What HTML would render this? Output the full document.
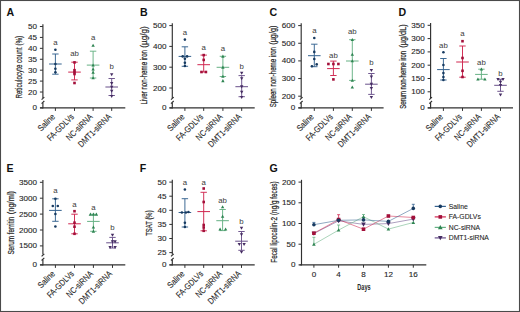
<!DOCTYPE html><html><head><meta charset="utf-8"><style>html,body{margin:0;padding:0;background:#fff}svg{display:block}</style></head><body>
<svg width="520" height="312" viewBox="0 0 520 312" font-family='"Liberation Sans", sans-serif'>
<rect x="0" y="0" width="520" height="312" fill="#fff"/>
<text x="6.50" y="15.60" font-size="10.6" text-anchor="start" fill="#111" font-weight="bold" >A</text>
<text x="22.40" y="98.60" font-size="8.4" text-anchor="start" fill="#262626" textLength="51.00" lengthAdjust="spacingAndGlyphs" transform="rotate(-90 22.40 98.60)" stroke="#262626" stroke-width="0.22">Reticulocyte count</text>
<text x="22.40" y="45.60" font-size="8.4" text-anchor="start" fill="#262626" textLength="9.80" lengthAdjust="spacingAndGlyphs" transform="rotate(-90 22.40 45.60)" stroke="#262626" stroke-width="0.22">(%)</text>
<line x1="42.90" y1="24.20" x2="42.90" y2="97.90" stroke="#303030" stroke-width="1.15"/>
<line x1="42.90" y1="103.00" x2="42.90" y2="108.40" stroke="#303030" stroke-width="1.15"/>
<line x1="44.30" y1="97.10" x2="41.60" y2="99.70" stroke="#303030" stroke-width="1.15"/>
<line x1="44.30" y1="101.00" x2="41.60" y2="103.70" stroke="#303030" stroke-width="1.15"/>
<line x1="39.90" y1="26.50" x2="42.90" y2="26.50" stroke="#303030" stroke-width="1.0"/>
<text x="37.00" y="29.00" font-size="6.8" text-anchor="end" fill="#262626" textLength="9.00" lengthAdjust="spacingAndGlyphs" stroke="#262626" stroke-width="0.1">50</text>
<line x1="39.90" y1="37.42" x2="42.90" y2="37.42" stroke="#303030" stroke-width="1.0"/>
<text x="37.00" y="39.92" font-size="6.8" text-anchor="end" fill="#262626" textLength="9.00" lengthAdjust="spacingAndGlyphs" stroke="#262626" stroke-width="0.1">45</text>
<line x1="39.90" y1="48.34" x2="42.90" y2="48.34" stroke="#303030" stroke-width="1.0"/>
<text x="37.00" y="50.84" font-size="6.8" text-anchor="end" fill="#262626" textLength="9.00" lengthAdjust="spacingAndGlyphs" stroke="#262626" stroke-width="0.1">40</text>
<line x1="39.90" y1="59.26" x2="42.90" y2="59.26" stroke="#303030" stroke-width="1.0"/>
<text x="37.00" y="61.76" font-size="6.8" text-anchor="end" fill="#262626" textLength="9.00" lengthAdjust="spacingAndGlyphs" stroke="#262626" stroke-width="0.1">35</text>
<line x1="39.90" y1="70.18" x2="42.90" y2="70.18" stroke="#303030" stroke-width="1.0"/>
<text x="37.00" y="72.68" font-size="6.8" text-anchor="end" fill="#262626" textLength="9.00" lengthAdjust="spacingAndGlyphs" stroke="#262626" stroke-width="0.1">30</text>
<line x1="39.90" y1="81.10" x2="42.90" y2="81.10" stroke="#303030" stroke-width="1.0"/>
<text x="37.00" y="83.60" font-size="6.8" text-anchor="end" fill="#262626" textLength="9.00" lengthAdjust="spacingAndGlyphs" stroke="#262626" stroke-width="0.1">25</text>
<line x1="39.90" y1="92.02" x2="42.90" y2="92.02" stroke="#303030" stroke-width="1.0"/>
<text x="37.00" y="94.52" font-size="6.8" text-anchor="end" fill="#262626" textLength="9.00" lengthAdjust="spacingAndGlyphs" stroke="#262626" stroke-width="0.1">20</text>
<line x1="39.90" y1="107.90" x2="42.90" y2="107.90" stroke="#303030" stroke-width="1.0"/>
<text x="37.00" y="110.40" font-size="6.8" text-anchor="end" fill="#262626" textLength="4.50" lengthAdjust="spacingAndGlyphs" stroke="#262626" stroke-width="0.1">0</text>
<line x1="40.10" y1="107.90" x2="125.30" y2="107.90" stroke="#303030" stroke-width="1.25"/>
<line x1="55.40" y1="107.90" x2="55.40" y2="110.90" stroke="#303030" stroke-width="1.0"/>
<text x="55.60" y="117.30" font-size="8.8" text-anchor="end" fill="#262626" textLength="20.30" lengthAdjust="spacingAndGlyphs" transform="rotate(-45 55.60 117.30)" stroke="#262626" stroke-width="0.1">Saline</text>
<line x1="74.50" y1="107.90" x2="74.50" y2="110.90" stroke="#303030" stroke-width="1.0"/>
<text x="74.70" y="117.30" font-size="8.8" text-anchor="end" fill="#262626" textLength="34.35" lengthAdjust="spacingAndGlyphs" transform="rotate(-45 74.70 117.30)" stroke="#262626" stroke-width="0.1">FA-GDLVs</text>
<line x1="93.10" y1="107.90" x2="93.10" y2="110.90" stroke="#303030" stroke-width="1.0"/>
<text x="93.30" y="117.30" font-size="8.8" text-anchor="end" fill="#262626" textLength="33.66" lengthAdjust="spacingAndGlyphs" transform="rotate(-45 93.30 117.30)" stroke="#262626" stroke-width="0.1">NC-siRNA</text>
<line x1="111.70" y1="107.90" x2="111.70" y2="110.90" stroke="#303030" stroke-width="1.0"/>
<text x="111.90" y="117.30" font-size="8.8" text-anchor="end" fill="#262626" textLength="42.99" lengthAdjust="spacingAndGlyphs" transform="rotate(-45 111.90 117.30)" stroke="#262626" stroke-width="0.1">DMT1-siRNA</text>
<line x1="55.40" y1="54.00" x2="55.40" y2="74.20" stroke="#34628f" stroke-width="0.95"/>
<line x1="52.20" y1="54.00" x2="58.60" y2="54.00" stroke="#34628f" stroke-width="0.95"/>
<line x1="52.20" y1="74.20" x2="58.60" y2="74.20" stroke="#34628f" stroke-width="0.95"/>
<line x1="49.10" y1="64.00" x2="61.70" y2="64.00" stroke="#34628f" stroke-width="1.0"/>
<circle cx="55.40" cy="49.80" r="1.3" fill="#173a60"/>
<circle cx="55.40" cy="64.00" r="1.3" fill="#173a60"/>
<circle cx="55.40" cy="68.80" r="1.3" fill="#173a60"/>
<circle cx="55.40" cy="72.30" r="1.3" fill="#173a60"/>
<text x="55.40" y="45.10" font-size="7.8" text-anchor="middle" fill="#3a3a3a" >a</text>
<line x1="74.50" y1="62.20" x2="74.50" y2="79.90" stroke="#d0264f" stroke-width="0.95"/>
<line x1="71.30" y1="62.20" x2="77.70" y2="62.20" stroke="#d0264f" stroke-width="0.95"/>
<line x1="71.30" y1="79.90" x2="77.70" y2="79.90" stroke="#d0264f" stroke-width="0.95"/>
<line x1="68.20" y1="72.10" x2="80.80" y2="72.10" stroke="#d0264f" stroke-width="1.0"/>
<rect x="73.20" y="61.10" width="2.60" height="2.60" fill="#a3103a"/>
<rect x="73.20" y="68.90" width="2.60" height="2.60" fill="#a3103a"/>
<rect x="73.20" y="70.80" width="2.60" height="2.60" fill="#a3103a"/>
<rect x="73.20" y="72.70" width="2.60" height="2.60" fill="#a3103a"/>
<rect x="73.20" y="81.70" width="2.60" height="2.60" fill="#a3103a"/>
<text x="74.50" y="55.50" font-size="7.8" text-anchor="middle" fill="#3a3a3a" >ab</text>
<line x1="93.10" y1="51.20" x2="93.10" y2="78.00" stroke="#66b184" stroke-width="0.95"/>
<line x1="89.90" y1="51.20" x2="96.30" y2="51.20" stroke="#66b184" stroke-width="0.95"/>
<line x1="89.90" y1="78.00" x2="96.30" y2="78.00" stroke="#66b184" stroke-width="0.95"/>
<line x1="86.80" y1="65.10" x2="99.40" y2="65.10" stroke="#66b184" stroke-width="1.0"/>
<path d="M93.10 43.81L94.79 46.85L91.41 46.85Z" fill="#2e8452"/>
<path d="M93.10 63.41L94.79 66.45L91.41 66.45Z" fill="#2e8452"/>
<path d="M93.10 67.41L94.79 70.45L91.41 70.45Z" fill="#2e8452"/>
<path d="M93.10 70.71L94.79 73.75L91.41 73.75Z" fill="#2e8452"/>
<path d="M93.10 76.31L94.79 79.35L91.41 79.35Z" fill="#2e8452"/>
<text x="93.10" y="40.10" font-size="7.8" text-anchor="middle" fill="#3a3a3a" >a</text>
<line x1="111.70" y1="78.50" x2="111.70" y2="95.50" stroke="#69508a" stroke-width="0.95"/>
<line x1="108.50" y1="78.50" x2="114.90" y2="78.50" stroke="#69508a" stroke-width="0.95"/>
<line x1="108.50" y1="95.50" x2="114.90" y2="95.50" stroke="#69508a" stroke-width="0.95"/>
<line x1="105.40" y1="87.00" x2="118.00" y2="87.00" stroke="#69508a" stroke-width="1.0"/>
<path d="M111.70 76.29L113.39 73.25L110.01 73.25Z" fill="#452c62"/>
<path d="M111.70 84.99L113.39 81.95L110.01 81.95Z" fill="#452c62"/>
<path d="M111.70 88.69L113.39 85.65L110.01 85.65Z" fill="#452c62"/>
<path d="M111.70 92.69L113.39 89.65L110.01 89.65Z" fill="#452c62"/>
<path d="M111.70 98.09L113.39 95.05L110.01 95.05Z" fill="#452c62"/>
<text x="111.70" y="69.10" font-size="7.8" text-anchor="middle" fill="#3a3a3a" >b</text>
<text x="139.90" y="15.60" font-size="10.6" text-anchor="start" fill="#111" font-weight="bold" >B</text>
<text x="147.40" y="104.60" font-size="8.4" text-anchor="start" fill="#262626" textLength="54.60" lengthAdjust="spacingAndGlyphs" transform="rotate(-90 147.40 104.60)" stroke="#262626" stroke-width="0.22">Liver non-heme iron</text>
<text x="147.40" y="47.80" font-size="8.4" text-anchor="start" fill="#262626" textLength="21.60" lengthAdjust="spacingAndGlyphs" transform="rotate(-90 147.40 47.80)" stroke="#262626" stroke-width="0.22">(µg/g)</text>
<line x1="172.30" y1="23.30" x2="172.30" y2="97.90" stroke="#303030" stroke-width="1.15"/>
<line x1="172.30" y1="103.00" x2="172.30" y2="108.40" stroke="#303030" stroke-width="1.15"/>
<line x1="173.70" y1="97.10" x2="171.00" y2="99.70" stroke="#303030" stroke-width="1.15"/>
<line x1="173.70" y1="101.00" x2="171.00" y2="103.70" stroke="#303030" stroke-width="1.15"/>
<line x1="169.30" y1="25.60" x2="172.30" y2="25.60" stroke="#303030" stroke-width="1.0"/>
<text x="166.40" y="28.10" font-size="6.8" text-anchor="end" fill="#262626" textLength="13.50" lengthAdjust="spacingAndGlyphs" stroke="#262626" stroke-width="0.1">500</text>
<line x1="169.30" y1="46.40" x2="172.30" y2="46.40" stroke="#303030" stroke-width="1.0"/>
<text x="166.40" y="48.90" font-size="6.8" text-anchor="end" fill="#262626" textLength="13.50" lengthAdjust="spacingAndGlyphs" stroke="#262626" stroke-width="0.1">400</text>
<line x1="169.30" y1="67.20" x2="172.30" y2="67.20" stroke="#303030" stroke-width="1.0"/>
<text x="166.40" y="69.70" font-size="6.8" text-anchor="end" fill="#262626" textLength="13.50" lengthAdjust="spacingAndGlyphs" stroke="#262626" stroke-width="0.1">300</text>
<line x1="169.30" y1="88.00" x2="172.30" y2="88.00" stroke="#303030" stroke-width="1.0"/>
<text x="166.40" y="90.50" font-size="6.8" text-anchor="end" fill="#262626" textLength="13.50" lengthAdjust="spacingAndGlyphs" stroke="#262626" stroke-width="0.1">200</text>
<line x1="169.30" y1="107.90" x2="172.30" y2="107.90" stroke="#303030" stroke-width="1.0"/>
<text x="166.40" y="110.40" font-size="6.8" text-anchor="end" fill="#262626" textLength="4.50" lengthAdjust="spacingAndGlyphs" stroke="#262626" stroke-width="0.1">0</text>
<line x1="169.50" y1="107.90" x2="254.70" y2="107.90" stroke="#303030" stroke-width="1.25"/>
<line x1="184.90" y1="107.90" x2="184.90" y2="110.90" stroke="#303030" stroke-width="1.0"/>
<text x="185.10" y="117.30" font-size="8.8" text-anchor="end" fill="#262626" textLength="20.30" lengthAdjust="spacingAndGlyphs" transform="rotate(-45 185.10 117.30)" stroke="#262626" stroke-width="0.1">Saline</text>
<line x1="203.70" y1="107.90" x2="203.70" y2="110.90" stroke="#303030" stroke-width="1.0"/>
<text x="203.90" y="117.30" font-size="8.8" text-anchor="end" fill="#262626" textLength="34.35" lengthAdjust="spacingAndGlyphs" transform="rotate(-45 203.90 117.30)" stroke="#262626" stroke-width="0.1">FA-GDLVs</text>
<line x1="222.90" y1="107.90" x2="222.90" y2="110.90" stroke="#303030" stroke-width="1.0"/>
<text x="223.10" y="117.30" font-size="8.8" text-anchor="end" fill="#262626" textLength="33.66" lengthAdjust="spacingAndGlyphs" transform="rotate(-45 223.10 117.30)" stroke="#262626" stroke-width="0.1">NC-siRNA</text>
<line x1="241.70" y1="107.90" x2="241.70" y2="110.90" stroke="#303030" stroke-width="1.0"/>
<text x="241.90" y="117.30" font-size="8.8" text-anchor="end" fill="#262626" textLength="42.99" lengthAdjust="spacingAndGlyphs" transform="rotate(-45 241.90 117.30)" stroke="#262626" stroke-width="0.1">DMT1-siRNA</text>
<line x1="184.90" y1="46.80" x2="184.90" y2="66.30" stroke="#34628f" stroke-width="0.95"/>
<line x1="181.70" y1="46.80" x2="188.10" y2="46.80" stroke="#34628f" stroke-width="0.95"/>
<line x1="181.70" y1="66.30" x2="188.10" y2="66.30" stroke="#34628f" stroke-width="0.95"/>
<line x1="178.60" y1="56.40" x2="191.20" y2="56.40" stroke="#34628f" stroke-width="1.0"/>
<circle cx="184.90" cy="39.60" r="1.3" fill="#173a60"/>
<circle cx="182.70" cy="56.40" r="1.3" fill="#173a60"/>
<circle cx="187.10" cy="56.40" r="1.3" fill="#173a60"/>
<circle cx="184.90" cy="58.80" r="1.3" fill="#173a60"/>
<circle cx="184.90" cy="62.80" r="1.3" fill="#173a60"/>
<circle cx="184.90" cy="66.00" r="1.3" fill="#173a60"/>
<text x="184.90" y="35.30" font-size="7.8" text-anchor="middle" fill="#3a3a3a" >a</text>
<line x1="203.70" y1="55.10" x2="203.70" y2="72.00" stroke="#d0264f" stroke-width="0.95"/>
<line x1="200.50" y1="55.10" x2="206.90" y2="55.10" stroke="#d0264f" stroke-width="0.95"/>
<line x1="200.50" y1="72.00" x2="206.90" y2="72.00" stroke="#d0264f" stroke-width="0.95"/>
<line x1="197.40" y1="64.70" x2="210.00" y2="64.70" stroke="#d0264f" stroke-width="1.0"/>
<rect x="202.40" y="53.80" width="2.60" height="2.60" fill="#a3103a"/>
<rect x="202.40" y="58.60" width="2.60" height="2.60" fill="#a3103a"/>
<rect x="200.20" y="70.70" width="2.60" height="2.60" fill="#a3103a"/>
<rect x="204.60" y="70.70" width="2.60" height="2.60" fill="#a3103a"/>
<text x="203.70" y="50.20" font-size="7.8" text-anchor="middle" fill="#3a3a3a" >a</text>
<line x1="222.90" y1="56.30" x2="222.90" y2="76.50" stroke="#66b184" stroke-width="0.95"/>
<line x1="219.70" y1="56.30" x2="226.10" y2="56.30" stroke="#66b184" stroke-width="0.95"/>
<line x1="219.70" y1="76.50" x2="226.10" y2="76.50" stroke="#66b184" stroke-width="0.95"/>
<line x1="216.60" y1="67.30" x2="229.20" y2="67.30" stroke="#66b184" stroke-width="1.0"/>
<path d="M222.90 54.61L224.59 57.65L221.21 57.65Z" fill="#2e8452"/>
<path d="M222.90 65.61L224.59 68.65L221.21 68.65Z" fill="#2e8452"/>
<path d="M222.90 74.81L224.59 77.85L221.21 77.85Z" fill="#2e8452"/>
<path d="M222.90 79.11L224.59 82.15L221.21 82.15Z" fill="#2e8452"/>
<text x="222.90" y="50.70" font-size="7.8" text-anchor="middle" fill="#3a3a3a" >a</text>
<line x1="241.70" y1="75.60" x2="241.70" y2="96.70" stroke="#69508a" stroke-width="0.95"/>
<line x1="238.50" y1="75.60" x2="244.90" y2="75.60" stroke="#69508a" stroke-width="0.95"/>
<line x1="238.50" y1="96.70" x2="244.90" y2="96.70" stroke="#69508a" stroke-width="0.95"/>
<line x1="235.40" y1="86.70" x2="248.00" y2="86.70" stroke="#69508a" stroke-width="1.0"/>
<path d="M241.70 74.79L243.39 71.75L240.01 71.75Z" fill="#452c62"/>
<path d="M241.70 80.19L243.39 77.15L240.01 77.15Z" fill="#452c62"/>
<path d="M241.70 88.39L243.39 85.35L240.01 85.35Z" fill="#452c62"/>
<path d="M241.70 93.69L243.39 90.65L240.01 90.65Z" fill="#452c62"/>
<path d="M241.70 98.99L243.39 95.95L240.01 95.95Z" fill="#452c62"/>
<text x="241.70" y="68.80" font-size="7.8" text-anchor="middle" fill="#3a3a3a" >b</text>
<text x="269.40" y="15.60" font-size="10.6" text-anchor="start" fill="#111" font-weight="bold" >C</text>
<text x="276.50" y="107.30" font-size="8.4" text-anchor="start" fill="#262626" textLength="60.30" lengthAdjust="spacingAndGlyphs" transform="rotate(-90 276.50 107.30)" stroke="#262626" stroke-width="0.22">Spleen non-heme iron</text>
<text x="276.50" y="44.80" font-size="8.4" text-anchor="start" fill="#262626" textLength="19.30" lengthAdjust="spacingAndGlyphs" transform="rotate(-90 276.50 44.80)" stroke="#262626" stroke-width="0.22">(µg/g)</text>
<line x1="301.20" y1="23.30" x2="301.20" y2="97.90" stroke="#303030" stroke-width="1.15"/>
<line x1="301.20" y1="103.00" x2="301.20" y2="108.40" stroke="#303030" stroke-width="1.15"/>
<line x1="302.60" y1="97.10" x2="299.90" y2="99.70" stroke="#303030" stroke-width="1.15"/>
<line x1="302.60" y1="101.00" x2="299.90" y2="103.70" stroke="#303030" stroke-width="1.15"/>
<line x1="298.20" y1="25.60" x2="301.20" y2="25.60" stroke="#303030" stroke-width="1.0"/>
<text x="295.30" y="28.10" font-size="6.8" text-anchor="end" fill="#262626" textLength="13.50" lengthAdjust="spacingAndGlyphs" stroke="#262626" stroke-width="0.1">600</text>
<line x1="298.20" y1="43.25" x2="301.20" y2="43.25" stroke="#303030" stroke-width="1.0"/>
<text x="295.30" y="45.75" font-size="6.8" text-anchor="end" fill="#262626" textLength="13.50" lengthAdjust="spacingAndGlyphs" stroke="#262626" stroke-width="0.1">500</text>
<line x1="298.20" y1="60.90" x2="301.20" y2="60.90" stroke="#303030" stroke-width="1.0"/>
<text x="295.30" y="63.40" font-size="6.8" text-anchor="end" fill="#262626" textLength="13.50" lengthAdjust="spacingAndGlyphs" stroke="#262626" stroke-width="0.1">400</text>
<line x1="298.20" y1="78.55" x2="301.20" y2="78.55" stroke="#303030" stroke-width="1.0"/>
<text x="295.30" y="81.05" font-size="6.8" text-anchor="end" fill="#262626" textLength="13.50" lengthAdjust="spacingAndGlyphs" stroke="#262626" stroke-width="0.1">300</text>
<line x1="298.20" y1="96.20" x2="301.20" y2="96.20" stroke="#303030" stroke-width="1.0"/>
<text x="295.30" y="98.70" font-size="6.8" text-anchor="end" fill="#262626" textLength="13.50" lengthAdjust="spacingAndGlyphs" stroke="#262626" stroke-width="0.1">200</text>
<line x1="298.20" y1="107.90" x2="301.20" y2="107.90" stroke="#303030" stroke-width="1.0"/>
<text x="295.30" y="110.40" font-size="6.8" text-anchor="end" fill="#262626" textLength="4.50" lengthAdjust="spacingAndGlyphs" stroke="#262626" stroke-width="0.1">0</text>
<line x1="298.40" y1="107.90" x2="383.60" y2="107.90" stroke="#303030" stroke-width="1.25"/>
<line x1="314.30" y1="107.90" x2="314.30" y2="110.90" stroke="#303030" stroke-width="1.0"/>
<text x="314.50" y="117.30" font-size="8.8" text-anchor="end" fill="#262626" textLength="20.30" lengthAdjust="spacingAndGlyphs" transform="rotate(-45 314.50 117.30)" stroke="#262626" stroke-width="0.1">Saline</text>
<line x1="333.40" y1="107.90" x2="333.40" y2="110.90" stroke="#303030" stroke-width="1.0"/>
<text x="333.60" y="117.30" font-size="8.8" text-anchor="end" fill="#262626" textLength="34.35" lengthAdjust="spacingAndGlyphs" transform="rotate(-45 333.60 117.30)" stroke="#262626" stroke-width="0.1">FA-GDLVs</text>
<line x1="352.30" y1="107.90" x2="352.30" y2="110.90" stroke="#303030" stroke-width="1.0"/>
<text x="352.50" y="117.30" font-size="8.8" text-anchor="end" fill="#262626" textLength="33.66" lengthAdjust="spacingAndGlyphs" transform="rotate(-45 352.50 117.30)" stroke="#262626" stroke-width="0.1">NC-siRNA</text>
<line x1="371.40" y1="107.90" x2="371.40" y2="110.90" stroke="#303030" stroke-width="1.0"/>
<text x="371.60" y="117.30" font-size="8.8" text-anchor="end" fill="#262626" textLength="42.99" lengthAdjust="spacingAndGlyphs" transform="rotate(-45 371.60 117.30)" stroke="#262626" stroke-width="0.1">DMT1-siRNA</text>
<line x1="314.30" y1="44.20" x2="314.30" y2="66.70" stroke="#34628f" stroke-width="0.95"/>
<line x1="311.10" y1="44.20" x2="317.50" y2="44.20" stroke="#34628f" stroke-width="0.95"/>
<line x1="311.10" y1="66.70" x2="317.50" y2="66.70" stroke="#34628f" stroke-width="0.95"/>
<line x1="308.00" y1="55.70" x2="320.60" y2="55.70" stroke="#34628f" stroke-width="1.0"/>
<circle cx="314.30" cy="38.00" r="1.3" fill="#173a60"/>
<circle cx="314.30" cy="51.90" r="1.3" fill="#173a60"/>
<circle cx="314.30" cy="59.00" r="1.3" fill="#173a60"/>
<circle cx="316.70" cy="64.40" r="1.3" fill="#173a60"/>
<circle cx="311.90" cy="66.30" r="1.3" fill="#173a60"/>
<text x="314.30" y="33.30" font-size="7.8" text-anchor="middle" fill="#3a3a3a" >a</text>
<line x1="333.40" y1="61.10" x2="333.40" y2="75.50" stroke="#d0264f" stroke-width="0.95"/>
<line x1="330.20" y1="61.10" x2="336.60" y2="61.10" stroke="#d0264f" stroke-width="0.95"/>
<line x1="330.20" y1="75.50" x2="336.60" y2="75.50" stroke="#d0264f" stroke-width="0.95"/>
<line x1="327.10" y1="68.60" x2="339.70" y2="68.60" stroke="#d0264f" stroke-width="1.0"/>
<rect x="327.10" y="62.70" width="2.60" height="2.60" fill="#a3103a"/>
<rect x="332.10" y="62.70" width="2.60" height="2.60" fill="#a3103a"/>
<rect x="337.10" y="62.70" width="2.60" height="2.60" fill="#a3103a"/>
<rect x="332.10" y="78.10" width="2.60" height="2.60" fill="#a3103a"/>
<text x="333.40" y="57.80" font-size="7.8" text-anchor="middle" fill="#3a3a3a" >ab</text>
<line x1="352.30" y1="39.70" x2="352.30" y2="80.40" stroke="#66b184" stroke-width="0.95"/>
<line x1="349.10" y1="39.70" x2="355.50" y2="39.70" stroke="#66b184" stroke-width="0.95"/>
<line x1="349.10" y1="80.40" x2="355.50" y2="80.40" stroke="#66b184" stroke-width="0.95"/>
<line x1="346.00" y1="61.00" x2="358.60" y2="61.00" stroke="#66b184" stroke-width="1.0"/>
<path d="M352.30 38.01L353.99 41.05L350.61 41.05Z" fill="#2e8452"/>
<path d="M352.30 52.71L353.99 55.75L350.61 55.75Z" fill="#2e8452"/>
<path d="M352.30 59.31L353.99 62.35L350.61 62.35Z" fill="#2e8452"/>
<path d="M352.30 78.71L353.99 81.75L350.61 81.75Z" fill="#2e8452"/>
<path d="M352.30 85.41L353.99 88.45L350.61 88.45Z" fill="#2e8452"/>
<text x="352.30" y="33.80" font-size="7.8" text-anchor="middle" fill="#3a3a3a" >ab</text>
<line x1="371.40" y1="73.50" x2="371.40" y2="94.40" stroke="#69508a" stroke-width="0.95"/>
<line x1="368.20" y1="73.50" x2="374.60" y2="73.50" stroke="#69508a" stroke-width="0.95"/>
<line x1="368.20" y1="94.40" x2="374.60" y2="94.40" stroke="#69508a" stroke-width="0.95"/>
<line x1="365.10" y1="84.20" x2="377.70" y2="84.20" stroke="#69508a" stroke-width="1.0"/>
<path d="M371.40 71.99L373.09 68.95L369.71 68.95Z" fill="#452c62"/>
<path d="M371.40 78.59L373.09 75.55L369.71 75.55Z" fill="#452c62"/>
<path d="M371.40 85.89L373.09 82.85L369.71 82.85Z" fill="#452c62"/>
<path d="M371.40 89.99L373.09 86.95L369.71 86.95Z" fill="#452c62"/>
<path d="M371.40 99.09L373.09 96.05L369.71 96.05Z" fill="#452c62"/>
<text x="371.40" y="65.30" font-size="7.8" text-anchor="middle" fill="#3a3a3a" >b</text>
<text x="398.40" y="15.60" font-size="10.6" text-anchor="start" fill="#111" font-weight="bold" >D</text>
<text x="406.00" y="108.70" font-size="8.4" text-anchor="start" fill="#262626" textLength="57.90" lengthAdjust="spacingAndGlyphs" transform="rotate(-90 406.00 108.70)" stroke="#262626" stroke-width="0.22">Serum non-heme iron</text>
<text x="406.00" y="47.80" font-size="8.4" text-anchor="start" fill="#262626" textLength="23.50" lengthAdjust="spacingAndGlyphs" transform="rotate(-90 406.00 47.80)" stroke="#262626" stroke-width="0.22">(µg/dL)</text>
<line x1="430.60" y1="23.00" x2="430.60" y2="97.90" stroke="#303030" stroke-width="1.15"/>
<line x1="430.60" y1="103.00" x2="430.60" y2="108.40" stroke="#303030" stroke-width="1.15"/>
<line x1="432.00" y1="97.10" x2="429.30" y2="99.70" stroke="#303030" stroke-width="1.15"/>
<line x1="432.00" y1="101.00" x2="429.30" y2="103.70" stroke="#303030" stroke-width="1.15"/>
<line x1="427.60" y1="25.30" x2="430.60" y2="25.30" stroke="#303030" stroke-width="1.0"/>
<text x="424.70" y="27.80" font-size="6.8" text-anchor="end" fill="#262626" textLength="13.50" lengthAdjust="spacingAndGlyphs" stroke="#262626" stroke-width="0.1">350</text>
<line x1="427.60" y1="38.60" x2="430.60" y2="38.60" stroke="#303030" stroke-width="1.0"/>
<text x="424.70" y="41.10" font-size="6.8" text-anchor="end" fill="#262626" textLength="13.50" lengthAdjust="spacingAndGlyphs" stroke="#262626" stroke-width="0.1">300</text>
<line x1="427.60" y1="51.90" x2="430.60" y2="51.90" stroke="#303030" stroke-width="1.0"/>
<text x="424.70" y="54.40" font-size="6.8" text-anchor="end" fill="#262626" textLength="13.50" lengthAdjust="spacingAndGlyphs" stroke="#262626" stroke-width="0.1">250</text>
<line x1="427.60" y1="65.20" x2="430.60" y2="65.20" stroke="#303030" stroke-width="1.0"/>
<text x="424.70" y="67.70" font-size="6.8" text-anchor="end" fill="#262626" textLength="13.50" lengthAdjust="spacingAndGlyphs" stroke="#262626" stroke-width="0.1">200</text>
<line x1="427.60" y1="78.50" x2="430.60" y2="78.50" stroke="#303030" stroke-width="1.0"/>
<text x="424.70" y="81.00" font-size="6.8" text-anchor="end" fill="#262626" textLength="13.50" lengthAdjust="spacingAndGlyphs" stroke="#262626" stroke-width="0.1">150</text>
<line x1="427.60" y1="91.80" x2="430.60" y2="91.80" stroke="#303030" stroke-width="1.0"/>
<text x="424.70" y="94.30" font-size="6.8" text-anchor="end" fill="#262626" textLength="13.50" lengthAdjust="spacingAndGlyphs" stroke="#262626" stroke-width="0.1">100</text>
<line x1="427.60" y1="107.90" x2="430.60" y2="107.90" stroke="#303030" stroke-width="1.0"/>
<text x="424.70" y="110.40" font-size="6.8" text-anchor="end" fill="#262626" textLength="4.50" lengthAdjust="spacingAndGlyphs" stroke="#262626" stroke-width="0.1">0</text>
<line x1="427.80" y1="107.90" x2="513.00" y2="107.90" stroke="#303030" stroke-width="1.25"/>
<line x1="443.40" y1="107.90" x2="443.40" y2="110.90" stroke="#303030" stroke-width="1.0"/>
<text x="443.60" y="117.30" font-size="8.8" text-anchor="end" fill="#262626" textLength="20.30" lengthAdjust="spacingAndGlyphs" transform="rotate(-45 443.60 117.30)" stroke="#262626" stroke-width="0.1">Saline</text>
<line x1="462.50" y1="107.90" x2="462.50" y2="110.90" stroke="#303030" stroke-width="1.0"/>
<text x="462.70" y="117.30" font-size="8.8" text-anchor="end" fill="#262626" textLength="34.35" lengthAdjust="spacingAndGlyphs" transform="rotate(-45 462.70 117.30)" stroke="#262626" stroke-width="0.1">FA-GDLVs</text>
<line x1="481.40" y1="107.90" x2="481.40" y2="110.90" stroke="#303030" stroke-width="1.0"/>
<text x="481.60" y="117.30" font-size="8.8" text-anchor="end" fill="#262626" textLength="33.66" lengthAdjust="spacingAndGlyphs" transform="rotate(-45 481.60 117.30)" stroke="#262626" stroke-width="0.1">NC-siRNA</text>
<line x1="500.50" y1="107.90" x2="500.50" y2="110.90" stroke="#303030" stroke-width="1.0"/>
<text x="500.70" y="117.30" font-size="8.8" text-anchor="end" fill="#262626" textLength="42.99" lengthAdjust="spacingAndGlyphs" transform="rotate(-45 500.70 117.30)" stroke="#262626" stroke-width="0.1">DMT1-siRNA</text>
<line x1="443.40" y1="58.50" x2="443.40" y2="80.00" stroke="#34628f" stroke-width="0.95"/>
<line x1="440.20" y1="58.50" x2="446.60" y2="58.50" stroke="#34628f" stroke-width="0.95"/>
<line x1="440.20" y1="80.00" x2="446.60" y2="80.00" stroke="#34628f" stroke-width="0.95"/>
<line x1="437.10" y1="69.60" x2="449.70" y2="69.60" stroke="#34628f" stroke-width="1.0"/>
<circle cx="443.40" cy="52.30" r="1.3" fill="#173a60"/>
<circle cx="443.40" cy="65.00" r="1.3" fill="#173a60"/>
<circle cx="443.40" cy="73.10" r="1.3" fill="#173a60"/>
<circle cx="443.40" cy="77.00" r="1.3" fill="#173a60"/>
<circle cx="443.40" cy="80.00" r="1.3" fill="#173a60"/>
<text x="443.40" y="47.90" font-size="7.8" text-anchor="middle" fill="#3a3a3a" >ab</text>
<line x1="462.50" y1="46.00" x2="462.50" y2="77.20" stroke="#d0264f" stroke-width="0.95"/>
<line x1="459.30" y1="46.00" x2="465.70" y2="46.00" stroke="#d0264f" stroke-width="0.95"/>
<line x1="459.30" y1="77.20" x2="465.70" y2="77.20" stroke="#d0264f" stroke-width="0.95"/>
<line x1="456.20" y1="62.00" x2="468.80" y2="62.00" stroke="#d0264f" stroke-width="1.0"/>
<rect x="461.20" y="39.90" width="2.60" height="2.60" fill="#a3103a"/>
<rect x="461.20" y="56.70" width="2.60" height="2.60" fill="#a3103a"/>
<rect x="461.20" y="69.50" width="2.60" height="2.60" fill="#a3103a"/>
<rect x="461.20" y="75.70" width="2.60" height="2.60" fill="#a3103a"/>
<text x="462.50" y="36.40" font-size="7.8" text-anchor="middle" fill="#3a3a3a" >a</text>
<line x1="481.40" y1="69.20" x2="481.40" y2="79.20" stroke="#66b184" stroke-width="0.95"/>
<line x1="478.20" y1="69.20" x2="484.60" y2="69.20" stroke="#66b184" stroke-width="0.95"/>
<line x1="478.20" y1="79.20" x2="484.60" y2="79.20" stroke="#66b184" stroke-width="0.95"/>
<line x1="475.10" y1="74.40" x2="487.70" y2="74.40" stroke="#66b184" stroke-width="1.0"/>
<path d="M481.40 67.51L483.09 70.55L479.71 70.55Z" fill="#2e8452"/>
<path d="M477.90 77.51L479.59 80.55L476.21 80.55Z" fill="#2e8452"/>
<path d="M484.90 77.51L486.59 80.55L483.21 80.55Z" fill="#2e8452"/>
<text x="481.40" y="64.60" font-size="7.8" text-anchor="middle" fill="#3a3a3a" >ab</text>
<line x1="500.50" y1="79.30" x2="500.50" y2="91.30" stroke="#69508a" stroke-width="0.95"/>
<line x1="497.30" y1="79.30" x2="503.70" y2="79.30" stroke="#69508a" stroke-width="0.95"/>
<line x1="497.30" y1="91.30" x2="503.70" y2="91.30" stroke="#69508a" stroke-width="0.95"/>
<line x1="494.20" y1="85.30" x2="506.80" y2="85.30" stroke="#69508a" stroke-width="1.0"/>
<path d="M498.00 80.99L499.69 77.95L496.31 77.95Z" fill="#452c62"/>
<path d="M503.00 80.99L504.69 77.95L501.31 77.95Z" fill="#452c62"/>
<path d="M500.50 83.69L502.19 80.65L498.81 80.65Z" fill="#452c62"/>
<path d="M500.50 86.99L502.19 83.95L498.81 83.95Z" fill="#452c62"/>
<path d="M500.50 96.59L502.19 93.55L498.81 93.55Z" fill="#452c62"/>
<text x="500.50" y="75.50" font-size="7.8" text-anchor="middle" fill="#3a3a3a" >b</text>
<text x="6.60" y="172.40" font-size="10.6" text-anchor="start" fill="#111" font-weight="bold" >E</text>
<text x="13.80" y="254.60" font-size="8.4" text-anchor="start" fill="#262626" textLength="38.00" lengthAdjust="spacingAndGlyphs" transform="rotate(-90 13.80 254.60)" stroke="#262626" stroke-width="0.22">Serum ferritin</text>
<text x="13.80" y="214.20" font-size="8.4" text-anchor="start" fill="#262626" textLength="23.30" lengthAdjust="spacingAndGlyphs" transform="rotate(-90 13.80 214.20)" stroke="#262626" stroke-width="0.22">(ng/ml)</text>
<line x1="42.90" y1="180.00" x2="42.90" y2="254.60" stroke="#303030" stroke-width="1.15"/>
<line x1="42.90" y1="259.80" x2="42.90" y2="265.40" stroke="#303030" stroke-width="1.15"/>
<line x1="44.30" y1="253.80" x2="41.60" y2="256.40" stroke="#303030" stroke-width="1.15"/>
<line x1="44.30" y1="257.80" x2="41.60" y2="260.50" stroke="#303030" stroke-width="1.15"/>
<line x1="39.90" y1="182.30" x2="42.90" y2="182.30" stroke="#303030" stroke-width="1.0"/>
<text x="37.00" y="184.80" font-size="6.8" text-anchor="end" fill="#262626" textLength="18.00" lengthAdjust="spacingAndGlyphs" stroke="#262626" stroke-width="0.1">3500</text>
<line x1="39.90" y1="198.20" x2="42.90" y2="198.20" stroke="#303030" stroke-width="1.0"/>
<text x="37.00" y="200.70" font-size="6.8" text-anchor="end" fill="#262626" textLength="18.00" lengthAdjust="spacingAndGlyphs" stroke="#262626" stroke-width="0.1">3000</text>
<line x1="39.90" y1="214.10" x2="42.90" y2="214.10" stroke="#303030" stroke-width="1.0"/>
<text x="37.00" y="216.60" font-size="6.8" text-anchor="end" fill="#262626" textLength="18.00" lengthAdjust="spacingAndGlyphs" stroke="#262626" stroke-width="0.1">2500</text>
<line x1="39.90" y1="230.00" x2="42.90" y2="230.00" stroke="#303030" stroke-width="1.0"/>
<text x="37.00" y="232.50" font-size="6.8" text-anchor="end" fill="#262626" textLength="18.00" lengthAdjust="spacingAndGlyphs" stroke="#262626" stroke-width="0.1">2000</text>
<line x1="39.90" y1="245.90" x2="42.90" y2="245.90" stroke="#303030" stroke-width="1.0"/>
<text x="37.00" y="248.40" font-size="6.8" text-anchor="end" fill="#262626" textLength="18.00" lengthAdjust="spacingAndGlyphs" stroke="#262626" stroke-width="0.1">1500</text>
<line x1="39.90" y1="264.90" x2="42.90" y2="264.90" stroke="#303030" stroke-width="1.0"/>
<text x="37.00" y="267.40" font-size="6.8" text-anchor="end" fill="#262626" textLength="4.50" lengthAdjust="spacingAndGlyphs" stroke="#262626" stroke-width="0.1">0</text>
<line x1="40.10" y1="264.90" x2="125.30" y2="264.90" stroke="#303030" stroke-width="1.25"/>
<line x1="55.40" y1="264.90" x2="55.40" y2="267.90" stroke="#303030" stroke-width="1.0"/>
<text x="55.60" y="274.30" font-size="8.8" text-anchor="end" fill="#262626" textLength="20.30" lengthAdjust="spacingAndGlyphs" transform="rotate(-45 55.60 274.30)" stroke="#262626" stroke-width="0.1">Saline</text>
<line x1="74.50" y1="264.90" x2="74.50" y2="267.90" stroke="#303030" stroke-width="1.0"/>
<text x="74.70" y="274.30" font-size="8.8" text-anchor="end" fill="#262626" textLength="34.35" lengthAdjust="spacingAndGlyphs" transform="rotate(-45 74.70 274.30)" stroke="#262626" stroke-width="0.1">FA-GDLVs</text>
<line x1="93.40" y1="264.90" x2="93.40" y2="267.90" stroke="#303030" stroke-width="1.0"/>
<text x="93.60" y="274.30" font-size="8.8" text-anchor="end" fill="#262626" textLength="33.66" lengthAdjust="spacingAndGlyphs" transform="rotate(-45 93.60 274.30)" stroke="#262626" stroke-width="0.1">NC-siRNA</text>
<line x1="112.50" y1="264.90" x2="112.50" y2="267.90" stroke="#303030" stroke-width="1.0"/>
<text x="112.70" y="274.30" font-size="8.8" text-anchor="end" fill="#262626" textLength="42.99" lengthAdjust="spacingAndGlyphs" transform="rotate(-45 112.70 274.30)" stroke="#262626" stroke-width="0.1">DMT1-siRNA</text>
<line x1="55.40" y1="198.80" x2="55.40" y2="221.30" stroke="#34628f" stroke-width="0.95"/>
<line x1="52.20" y1="198.80" x2="58.60" y2="198.80" stroke="#34628f" stroke-width="0.95"/>
<line x1="52.20" y1="221.30" x2="58.60" y2="221.30" stroke="#34628f" stroke-width="0.95"/>
<line x1="49.10" y1="210.40" x2="61.70" y2="210.40" stroke="#34628f" stroke-width="1.0"/>
<circle cx="55.40" cy="198.80" r="1.3" fill="#173a60"/>
<circle cx="52.80" cy="206.00" r="1.3" fill="#173a60"/>
<circle cx="57.80" cy="206.00" r="1.3" fill="#173a60"/>
<circle cx="55.40" cy="214.00" r="1.3" fill="#173a60"/>
<circle cx="55.40" cy="226.50" r="1.3" fill="#173a60"/>
<text x="55.40" y="193.20" font-size="7.8" text-anchor="middle" fill="#3a3a3a" >a</text>
<line x1="74.50" y1="214.20" x2="74.50" y2="233.80" stroke="#d0264f" stroke-width="0.95"/>
<line x1="71.30" y1="214.20" x2="77.70" y2="214.20" stroke="#d0264f" stroke-width="0.95"/>
<line x1="71.30" y1="233.80" x2="77.70" y2="233.80" stroke="#d0264f" stroke-width="0.95"/>
<line x1="68.20" y1="223.80" x2="80.80" y2="223.80" stroke="#d0264f" stroke-width="1.0"/>
<rect x="73.20" y="209.90" width="2.60" height="2.60" fill="#a3103a"/>
<rect x="73.20" y="221.40" width="2.60" height="2.60" fill="#a3103a"/>
<rect x="73.20" y="225.40" width="2.60" height="2.60" fill="#a3103a"/>
<rect x="73.20" y="232.50" width="2.60" height="2.60" fill="#a3103a"/>
<text x="74.50" y="206.60" font-size="7.8" text-anchor="middle" fill="#3a3a3a" >a</text>
<line x1="93.40" y1="214.30" x2="93.40" y2="231.30" stroke="#66b184" stroke-width="0.95"/>
<line x1="90.20" y1="214.30" x2="96.60" y2="214.30" stroke="#66b184" stroke-width="0.95"/>
<line x1="90.20" y1="231.30" x2="96.60" y2="231.30" stroke="#66b184" stroke-width="0.95"/>
<line x1="87.10" y1="221.40" x2="99.70" y2="221.40" stroke="#66b184" stroke-width="1.0"/>
<path d="M90.40 212.61L92.09 215.65L88.71 215.65Z" fill="#2e8452"/>
<path d="M93.40 212.61L95.09 215.65L91.71 215.65Z" fill="#2e8452"/>
<path d="M96.40 212.61L98.09 215.65L94.71 215.65Z" fill="#2e8452"/>
<path d="M93.40 225.51L95.09 228.55L91.71 228.55Z" fill="#2e8452"/>
<path d="M93.40 229.61L95.09 232.65L91.71 232.65Z" fill="#2e8452"/>
<text x="93.40" y="210.20" font-size="7.8" text-anchor="middle" fill="#3a3a3a" >a</text>
<line x1="112.50" y1="237.40" x2="112.50" y2="248.00" stroke="#69508a" stroke-width="0.95"/>
<line x1="109.30" y1="237.40" x2="115.70" y2="237.40" stroke="#69508a" stroke-width="0.95"/>
<line x1="109.30" y1="248.00" x2="115.70" y2="248.00" stroke="#69508a" stroke-width="0.95"/>
<line x1="106.20" y1="242.80" x2="118.80" y2="242.80" stroke="#69508a" stroke-width="1.0"/>
<path d="M112.50 236.79L114.19 233.75L110.81 233.75Z" fill="#452c62"/>
<path d="M112.50 243.39L114.19 240.35L110.81 240.35Z" fill="#452c62"/>
<path d="M115.10 243.39L116.79 240.35L113.41 240.35Z" fill="#452c62"/>
<path d="M110.10 249.09L111.79 246.05L108.41 246.05Z" fill="#452c62"/>
<path d="M115.10 249.09L116.79 246.05L113.41 246.05Z" fill="#452c62"/>
<text x="112.50" y="229.80" font-size="7.8" text-anchor="middle" fill="#3a3a3a" >b</text>
<text x="139.70" y="172.40" font-size="10.6" text-anchor="start" fill="#111" font-weight="bold" >F</text>
<text x="152.00" y="235.80" font-size="8.4" text-anchor="start" fill="#262626" textLength="25.40" lengthAdjust="spacingAndGlyphs" transform="rotate(-90 152.00 235.80)" stroke="#262626" stroke-width="0.22">TSAT (%)</text>
<line x1="172.30" y1="179.80" x2="172.30" y2="254.60" stroke="#303030" stroke-width="1.15"/>
<line x1="172.30" y1="259.80" x2="172.30" y2="265.40" stroke="#303030" stroke-width="1.15"/>
<line x1="173.70" y1="253.80" x2="171.00" y2="256.40" stroke="#303030" stroke-width="1.15"/>
<line x1="173.70" y1="257.80" x2="171.00" y2="260.50" stroke="#303030" stroke-width="1.15"/>
<line x1="169.30" y1="182.10" x2="172.30" y2="182.10" stroke="#303030" stroke-width="1.0"/>
<text x="166.40" y="184.60" font-size="6.8" text-anchor="end" fill="#262626" textLength="9.00" lengthAdjust="spacingAndGlyphs" stroke="#262626" stroke-width="0.1">50</text>
<line x1="169.30" y1="196.20" x2="172.30" y2="196.20" stroke="#303030" stroke-width="1.0"/>
<text x="166.40" y="198.70" font-size="6.8" text-anchor="end" fill="#262626" textLength="9.00" lengthAdjust="spacingAndGlyphs" stroke="#262626" stroke-width="0.1">45</text>
<line x1="169.30" y1="210.30" x2="172.30" y2="210.30" stroke="#303030" stroke-width="1.0"/>
<text x="166.40" y="212.80" font-size="6.8" text-anchor="end" fill="#262626" textLength="9.00" lengthAdjust="spacingAndGlyphs" stroke="#262626" stroke-width="0.1">40</text>
<line x1="169.30" y1="224.40" x2="172.30" y2="224.40" stroke="#303030" stroke-width="1.0"/>
<text x="166.40" y="226.90" font-size="6.8" text-anchor="end" fill="#262626" textLength="9.00" lengthAdjust="spacingAndGlyphs" stroke="#262626" stroke-width="0.1">35</text>
<line x1="169.30" y1="238.50" x2="172.30" y2="238.50" stroke="#303030" stroke-width="1.0"/>
<text x="166.40" y="241.00" font-size="6.8" text-anchor="end" fill="#262626" textLength="9.00" lengthAdjust="spacingAndGlyphs" stroke="#262626" stroke-width="0.1">30</text>
<line x1="169.30" y1="252.60" x2="172.30" y2="252.60" stroke="#303030" stroke-width="1.0"/>
<text x="166.40" y="255.10" font-size="6.8" text-anchor="end" fill="#262626" textLength="9.00" lengthAdjust="spacingAndGlyphs" stroke="#262626" stroke-width="0.1">25</text>
<line x1="169.30" y1="264.90" x2="172.30" y2="264.90" stroke="#303030" stroke-width="1.0"/>
<text x="166.40" y="267.40" font-size="6.8" text-anchor="end" fill="#262626" textLength="4.50" lengthAdjust="spacingAndGlyphs" stroke="#262626" stroke-width="0.1">0</text>
<line x1="169.50" y1="264.90" x2="254.70" y2="264.90" stroke="#303030" stroke-width="1.25"/>
<line x1="184.90" y1="264.90" x2="184.90" y2="267.90" stroke="#303030" stroke-width="1.0"/>
<text x="185.10" y="274.30" font-size="8.8" text-anchor="end" fill="#262626" textLength="20.30" lengthAdjust="spacingAndGlyphs" transform="rotate(-45 185.10 274.30)" stroke="#262626" stroke-width="0.1">Saline</text>
<line x1="203.70" y1="264.90" x2="203.70" y2="267.90" stroke="#303030" stroke-width="1.0"/>
<text x="203.90" y="274.30" font-size="8.8" text-anchor="end" fill="#262626" textLength="34.35" lengthAdjust="spacingAndGlyphs" transform="rotate(-45 203.90 274.30)" stroke="#262626" stroke-width="0.1">FA-GDLVs</text>
<line x1="222.60" y1="264.90" x2="222.60" y2="267.90" stroke="#303030" stroke-width="1.0"/>
<text x="222.80" y="274.30" font-size="8.8" text-anchor="end" fill="#262626" textLength="33.66" lengthAdjust="spacingAndGlyphs" transform="rotate(-45 222.80 274.30)" stroke="#262626" stroke-width="0.1">NC-siRNA</text>
<line x1="241.50" y1="264.90" x2="241.50" y2="267.90" stroke="#303030" stroke-width="1.0"/>
<text x="241.70" y="274.30" font-size="8.8" text-anchor="end" fill="#262626" textLength="42.99" lengthAdjust="spacingAndGlyphs" transform="rotate(-45 241.70 274.30)" stroke="#262626" stroke-width="0.1">DMT1-siRNA</text>
<line x1="184.90" y1="198.70" x2="184.90" y2="227.00" stroke="#34628f" stroke-width="0.95"/>
<line x1="181.70" y1="198.70" x2="188.10" y2="198.70" stroke="#34628f" stroke-width="0.95"/>
<line x1="181.70" y1="227.00" x2="188.10" y2="227.00" stroke="#34628f" stroke-width="0.95"/>
<line x1="178.60" y1="212.50" x2="191.20" y2="212.50" stroke="#34628f" stroke-width="1.0"/>
<circle cx="184.90" cy="189.50" r="1.3" fill="#173a60"/>
<circle cx="181.90" cy="212.50" r="1.3" fill="#173a60"/>
<circle cx="185.90" cy="212.50" r="1.3" fill="#173a60"/>
<circle cx="188.40" cy="212.00" r="1.3" fill="#173a60"/>
<circle cx="184.90" cy="222.70" r="1.3" fill="#173a60"/>
<circle cx="184.90" cy="227.00" r="1.3" fill="#173a60"/>
<text x="184.90" y="185.00" font-size="7.8" text-anchor="middle" fill="#3a3a3a" >a</text>
<line x1="203.70" y1="192.30" x2="203.70" y2="230.80" stroke="#d0264f" stroke-width="0.95"/>
<line x1="200.50" y1="192.30" x2="206.90" y2="192.30" stroke="#d0264f" stroke-width="0.95"/>
<line x1="200.50" y1="230.80" x2="206.90" y2="230.80" stroke="#d0264f" stroke-width="0.95"/>
<line x1="197.40" y1="211.60" x2="210.00" y2="211.60" stroke="#d0264f" stroke-width="1.0"/>
<rect x="202.40" y="187.20" width="2.60" height="2.60" fill="#a3103a"/>
<rect x="202.40" y="200.70" width="2.60" height="2.60" fill="#a3103a"/>
<rect x="202.40" y="223.70" width="2.60" height="2.60" fill="#a3103a"/>
<rect x="202.40" y="226.20" width="2.60" height="2.60" fill="#a3103a"/>
<rect x="202.40" y="229.50" width="2.60" height="2.60" fill="#a3103a"/>
<text x="203.70" y="185.00" font-size="7.8" text-anchor="middle" fill="#3a3a3a" >a</text>
<line x1="222.60" y1="209.50" x2="222.60" y2="230.60" stroke="#66b184" stroke-width="0.95"/>
<line x1="219.40" y1="209.50" x2="225.80" y2="209.50" stroke="#66b184" stroke-width="0.95"/>
<line x1="219.40" y1="230.60" x2="225.80" y2="230.60" stroke="#66b184" stroke-width="0.95"/>
<line x1="216.30" y1="220.70" x2="228.90" y2="220.70" stroke="#66b184" stroke-width="1.0"/>
<path d="M222.60 205.21L224.29 208.25L220.91 208.25Z" fill="#2e8452"/>
<path d="M222.60 214.81L224.29 217.85L220.91 217.85Z" fill="#2e8452"/>
<path d="M220.10 227.51L221.79 230.55L218.41 230.55Z" fill="#2e8452"/>
<path d="M225.60 227.51L227.29 230.55L223.91 230.55Z" fill="#2e8452"/>
<text x="222.60" y="202.80" font-size="7.8" text-anchor="middle" fill="#3a3a3a" >ab</text>
<line x1="241.50" y1="231.50" x2="241.50" y2="250.30" stroke="#69508a" stroke-width="0.95"/>
<line x1="238.30" y1="231.50" x2="244.70" y2="231.50" stroke="#69508a" stroke-width="0.95"/>
<line x1="238.30" y1="250.30" x2="244.70" y2="250.30" stroke="#69508a" stroke-width="0.95"/>
<line x1="235.20" y1="241.20" x2="247.80" y2="241.20" stroke="#69508a" stroke-width="1.0"/>
<path d="M241.50 229.79L243.19 226.75L239.81 226.75Z" fill="#452c62"/>
<path d="M241.50 236.19L243.19 233.15L239.81 233.15Z" fill="#452c62"/>
<path d="M239.30 245.99L240.99 242.95L237.61 242.95Z" fill="#452c62"/>
<path d="M244.10 245.99L245.79 242.95L242.41 242.95Z" fill="#452c62"/>
<path d="M241.50 253.69L243.19 250.65L239.81 250.65Z" fill="#452c62"/>
<text x="241.50" y="224.00" font-size="7.8" text-anchor="middle" fill="#3a3a3a" >b</text>
<text x="269.50" y="172.40" font-size="10.6" text-anchor="start" fill="#111" font-weight="bold" >G</text>
<text x="276.80" y="262.70" font-size="8.4" text-anchor="start" fill="#262626" textLength="45.70" lengthAdjust="spacingAndGlyphs" transform="rotate(-90 276.80 262.70)" stroke="#262626" stroke-width="0.22">Fecal lipocalin-2</text>
<text x="276.80" y="215.00" font-size="8.4" text-anchor="start" fill="#262626" textLength="33.60" lengthAdjust="spacingAndGlyphs" transform="rotate(-90 276.80 215.00)" stroke="#262626" stroke-width="0.22">(ng/g feces)</text>
<line x1="301.50" y1="179.80" x2="301.50" y2="265.40" stroke="#303030" stroke-width="1.15"/>
<line x1="298.50" y1="182.10" x2="301.50" y2="182.10" stroke="#303030" stroke-width="1.0"/>
<text x="295.60" y="184.60" font-size="6.8" text-anchor="end" fill="#262626" textLength="13.50" lengthAdjust="spacingAndGlyphs" stroke="#262626" stroke-width="0.1">200</text>
<line x1="298.50" y1="202.80" x2="301.50" y2="202.80" stroke="#303030" stroke-width="1.0"/>
<text x="295.60" y="205.30" font-size="6.8" text-anchor="end" fill="#262626" textLength="13.50" lengthAdjust="spacingAndGlyphs" stroke="#262626" stroke-width="0.1">150</text>
<line x1="298.50" y1="223.50" x2="301.50" y2="223.50" stroke="#303030" stroke-width="1.0"/>
<text x="295.60" y="226.00" font-size="6.8" text-anchor="end" fill="#262626" textLength="13.50" lengthAdjust="spacingAndGlyphs" stroke="#262626" stroke-width="0.1">100</text>
<line x1="298.50" y1="244.20" x2="301.50" y2="244.20" stroke="#303030" stroke-width="1.0"/>
<text x="295.60" y="246.70" font-size="6.8" text-anchor="end" fill="#262626" textLength="9.00" lengthAdjust="spacingAndGlyphs" stroke="#262626" stroke-width="0.1">50</text>
<line x1="298.50" y1="264.90" x2="301.50" y2="264.90" stroke="#303030" stroke-width="1.0"/>
<text x="295.60" y="267.40" font-size="6.8" text-anchor="end" fill="#262626" textLength="4.50" lengthAdjust="spacingAndGlyphs" stroke="#262626" stroke-width="0.1">0</text>
<line x1="299.50" y1="264.90" x2="426.30" y2="264.90" stroke="#303030" stroke-width="1.25"/>
<line x1="313.90" y1="264.90" x2="313.90" y2="267.70" stroke="#303030" stroke-width="1.0"/>
<text x="313.90" y="277.40" font-size="6.8" text-anchor="middle" fill="#262626" textLength="4.50" lengthAdjust="spacingAndGlyphs" stroke="#262626" stroke-width="0.1">0</text>
<line x1="338.60" y1="264.90" x2="338.60" y2="267.70" stroke="#303030" stroke-width="1.0"/>
<text x="338.60" y="277.40" font-size="6.8" text-anchor="middle" fill="#262626" textLength="4.50" lengthAdjust="spacingAndGlyphs" stroke="#262626" stroke-width="0.1">4</text>
<line x1="363.50" y1="264.90" x2="363.50" y2="267.70" stroke="#303030" stroke-width="1.0"/>
<text x="363.50" y="277.40" font-size="6.8" text-anchor="middle" fill="#262626" textLength="4.50" lengthAdjust="spacingAndGlyphs" stroke="#262626" stroke-width="0.1">8</text>
<line x1="388.40" y1="264.90" x2="388.40" y2="267.70" stroke="#303030" stroke-width="1.0"/>
<text x="388.40" y="277.40" font-size="6.8" text-anchor="middle" fill="#262626" textLength="9.00" lengthAdjust="spacingAndGlyphs" stroke="#262626" stroke-width="0.1">12</text>
<line x1="413.30" y1="264.90" x2="413.30" y2="267.70" stroke="#303030" stroke-width="1.0"/>
<text x="413.30" y="277.40" font-size="6.8" text-anchor="middle" fill="#262626" textLength="9.00" lengthAdjust="spacingAndGlyphs" stroke="#262626" stroke-width="0.1">16</text>
<text x="364.00" y="290.00" font-size="8.2" text-anchor="middle" fill="#262626" font-weight="bold" textLength="13.30" lengthAdjust="spacingAndGlyphs" >Days</text>
<polyline points="313.90,233.50 338.60,220.80 363.50,224.40 388.40,223.60 413.30,219.10" fill="none" stroke="#69508a" stroke-width="0.65" stroke-opacity="0.85"/>
<polyline points="313.90,244.30 338.60,230.10 363.50,216.70 388.40,229.10 413.30,222.50" fill="none" stroke="#66b184" stroke-width="0.65" stroke-opacity="0.85"/>
<polyline points="313.90,233.20 338.60,219.60 363.50,229.20 388.40,216.00 413.30,217.50" fill="none" stroke="#d0264f" stroke-width="0.65" stroke-opacity="0.85"/>
<polyline points="313.90,224.70 338.60,220.30 363.50,219.90 388.40,221.40 413.30,208.40" fill="none" stroke="#34628f" stroke-width="0.65" stroke-opacity="0.85"/>
<line x1="313.90" y1="222.40" x2="313.90" y2="224.70" stroke="#34628f" stroke-width="0.8"/>
<line x1="312.40" y1="222.40" x2="315.40" y2="222.40" stroke="#34628f" stroke-width="0.8"/>
<line x1="338.60" y1="218.40" x2="338.60" y2="220.30" stroke="#34628f" stroke-width="0.8"/>
<line x1="337.10" y1="218.40" x2="340.10" y2="218.40" stroke="#34628f" stroke-width="0.8"/>
<line x1="363.50" y1="217.60" x2="363.50" y2="219.90" stroke="#34628f" stroke-width="0.8"/>
<line x1="362.00" y1="217.60" x2="365.00" y2="217.60" stroke="#34628f" stroke-width="0.8"/>
<line x1="413.30" y1="204.30" x2="413.30" y2="208.40" stroke="#34628f" stroke-width="0.8"/>
<line x1="411.80" y1="204.30" x2="414.80" y2="204.30" stroke="#34628f" stroke-width="0.8"/>
<line x1="338.60" y1="214.70" x2="338.60" y2="219.60" stroke="#d0264f" stroke-width="0.8"/>
<line x1="337.10" y1="214.70" x2="340.10" y2="214.70" stroke="#d0264f" stroke-width="0.8"/>
<line x1="313.90" y1="237.30" x2="313.90" y2="244.30" stroke="#66b184" stroke-width="0.8"/>
<line x1="312.40" y1="237.30" x2="315.40" y2="237.30" stroke="#66b184" stroke-width="0.8"/>
<line x1="338.60" y1="225.00" x2="338.60" y2="230.10" stroke="#66b184" stroke-width="0.8"/>
<line x1="337.10" y1="225.00" x2="340.10" y2="225.00" stroke="#66b184" stroke-width="0.8"/>
<line x1="363.50" y1="214.50" x2="363.50" y2="216.70" stroke="#66b184" stroke-width="0.8"/>
<line x1="362.00" y1="214.50" x2="365.00" y2="214.50" stroke="#66b184" stroke-width="0.8"/>
<path d="M313.90 235.84L316.24 231.63L311.56 231.63Z" fill="#452c62"/>
<path d="M338.60 223.14L340.94 218.93L336.26 218.93Z" fill="#452c62"/>
<path d="M363.50 226.74L365.84 222.53L361.16 222.53Z" fill="#452c62"/>
<path d="M388.40 225.94L390.74 221.73L386.06 221.73Z" fill="#452c62"/>
<path d="M413.30 221.44L415.64 217.23L410.96 217.23Z" fill="#452c62"/>
<path d="M313.90 242.48L315.72 245.76L312.08 245.76Z" fill="#2e8452"/>
<path d="M338.60 228.28L340.42 231.56L336.78 231.56Z" fill="#2e8452"/>
<path d="M363.50 214.88L365.32 218.16L361.68 218.16Z" fill="#2e8452"/>
<path d="M388.40 227.28L390.22 230.56L386.58 230.56Z" fill="#2e8452"/>
<path d="M413.30 220.68L415.12 223.96L411.48 223.96Z" fill="#2e8452"/>
<rect x="312.10" y="231.40" width="3.60" height="3.60" fill="#a3103a"/>
<rect x="336.80" y="217.80" width="3.60" height="3.60" fill="#a3103a"/>
<rect x="361.70" y="227.40" width="3.60" height="3.60" fill="#a3103a"/>
<rect x="386.60" y="214.20" width="3.60" height="3.60" fill="#a3103a"/>
<rect x="411.50" y="215.70" width="3.60" height="3.60" fill="#a3103a"/>
<circle cx="313.90" cy="224.70" r="1.8" fill="#173a60"/>
<circle cx="338.60" cy="220.30" r="1.8" fill="#173a60"/>
<circle cx="363.50" cy="219.90" r="1.8" fill="#173a60"/>
<circle cx="388.40" cy="221.40" r="1.8" fill="#173a60"/>
<circle cx="413.30" cy="208.40" r="1.8" fill="#173a60"/>
<line x1="434.70" y1="206.40" x2="445.90" y2="206.40" stroke="#34628f" stroke-width="1.2"/>
<circle cx="440.30" cy="206.40" r="1.8" fill="#173a60"/>
<text x="448.80" y="208.90" font-size="7.1" text-anchor="start" fill="#262626" textLength="18.91" lengthAdjust="spacingAndGlyphs" stroke="#262626" stroke-width="0.1">Saline</text>
<line x1="434.70" y1="216.90" x2="445.90" y2="216.90" stroke="#d0264f" stroke-width="1.2"/>
<rect x="438.50" y="215.10" width="3.60" height="3.60" fill="#a3103a"/>
<text x="448.80" y="219.40" font-size="7.1" text-anchor="start" fill="#262626" textLength="31.99" lengthAdjust="spacingAndGlyphs" stroke="#262626" stroke-width="0.1">FA-GDLVs</text>
<line x1="434.70" y1="227.40" x2="445.90" y2="227.40" stroke="#66b184" stroke-width="1.2"/>
<path d="M440.30 225.06L442.64 229.27L437.96 229.27Z" fill="#2e8452"/>
<text x="448.80" y="229.90" font-size="7.1" text-anchor="start" fill="#262626" textLength="31.35" lengthAdjust="spacingAndGlyphs" stroke="#262626" stroke-width="0.1">NC-siRNA</text>
<line x1="434.70" y1="237.90" x2="445.90" y2="237.90" stroke="#69508a" stroke-width="1.2"/>
<path d="M440.30 240.24L442.64 236.03L437.96 236.03Z" fill="#452c62"/>
<text x="448.80" y="240.40" font-size="7.1" text-anchor="start" fill="#262626" textLength="40.05" lengthAdjust="spacingAndGlyphs" stroke="#262626" stroke-width="0.1">DMT1-siRNA</text>
<rect x="0.5" y="0.5" width="519" height="311" fill="none" stroke="#4a4a4a" stroke-width="1.1"/>
</svg></body></html>
